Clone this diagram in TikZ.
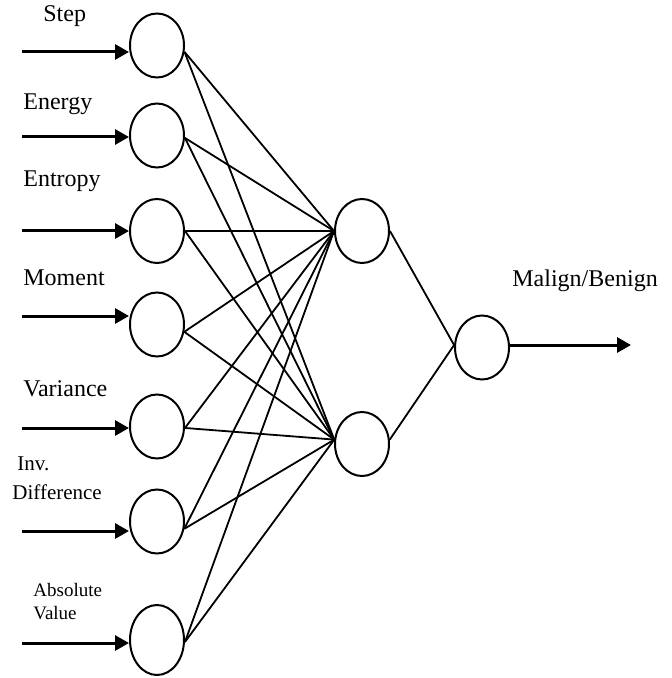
\documentclass[tikz,border=0pt]{standalone}
\usepackage{fontspec}
\setmainfont{Liberation Serif}
\usetikzlibrary{arrows.meta,shapes.geometric}

\begin{document}
\begin{tikzpicture}[
    x=0.5pt, y=-0.5pt,
    neuron/.style={ellipse, minimum width=27pt, minimum height=32pt, inner sep=0pt, draw=black, line width=1pt},
    link/.style={line width=0.9pt},
    arrow/.style={line width=1.5pt, -{Triangle[length=7pt,width=7.5pt]}},
    feat/.style={anchor=base west, inner sep=0pt, font=\fontsize{12}{14}\selectfont}
]
\useasboundingbox (0,0) rectangle (672,678);

% Nodes
\node (i1) [neuron] at (157,45.5) {};
\node (i2) [neuron] at (157,135.5) {};
\node (i3) [neuron] at (157,231) {};
\node (i4) [neuron] at (157,324.5) {};
\node (i5) [neuron] at (157,426.5) {};
\node (i6) [neuron] at (157,521.5) {};
\node (i7) [neuron, minimum height=35pt] at (157,640) {};
\node (h1) [neuron] at (362,231) {};
\node (h2) [neuron] at (362,444) {};
\node (o) [neuron] at (482,347.5) {};

% Labels
\node (lstep) [feat] at (43,22) {Step};
\node (lenergy) [feat] at (23,110) {Energy};
\node (lentropy) [feat] at (23,187) {Entropy};
\node (lmoment) [feat] at (23,285.5) {Moment};
\node (lvariance) [feat] at (23,396.5) {Variance};
\node (linv) [feat, font=\fontsize{10.5}{12}\selectfont] at (17,470.5) {Inv.};
\node (ldiff) [feat, font=\fontsize{10.5}{12}\selectfont] at (12,499) {Difference};
\node (labs) [feat, font=\fontsize{9.5}{11}\selectfont] at (33,596) {Absolute};
\node (lval) [feat, font=\fontsize{9.5}{11}\selectfont] at (33,619) {Value};
\node (lout) [feat] at (512,286) {Malign/Benign};

% Input arrows
\foreach \i/\y in {1/52,2/137,3/231,4/316,5/428,6/531,7/643} {
    \coordinate (s\i) at (22,\y);
    \draw [arrow] (s\i) -- (s\i -| i\i.west);
}

% Weights
\foreach \i/\a in {1/-13,2/-5,3/0,4/-15,5/-3,6/-15,7/-4} {
    \draw [link] (i\i.\a) -- (h1.west);
    \draw [link] (i\i.\a) -- (h2.171);
}
\draw [link] (h1.east) -- (o.175);
\draw [link] (h2.9) -- (o.175);

% Output arrow
\coordinate (t) at (631,345);
\draw [arrow] (o.east |- t) -- (t);

\end{tikzpicture}
\end{document}
